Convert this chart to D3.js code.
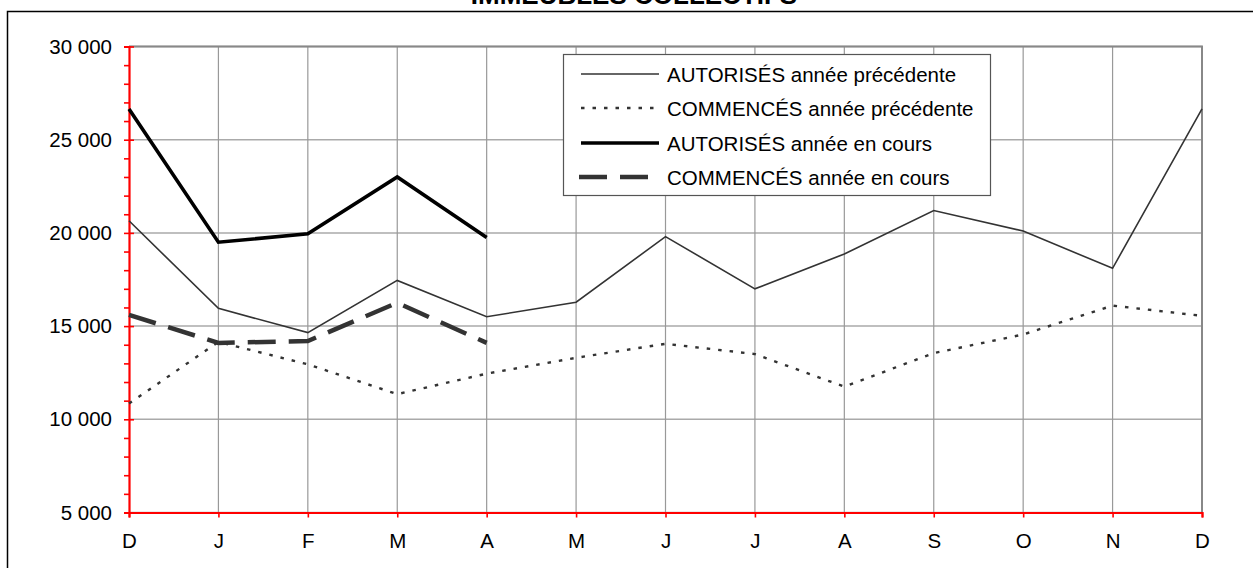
<!DOCTYPE html>
<html>
<head>
<meta charset="utf-8">
<script src="https://cdn.jsdelivr.net/npm/d3@7"></script>
<style>
  body { margin: 0; background: #fff; }
  svg { display: block; font-family: "Liberation Sans", Arial, sans-serif; }
</style>
</head>
<body>
<svg id="chart" width="1253" height="568"></svg>
<script>
// month labels (Dec previous year -> Dec)
var months = ["D", "J", "F", "M", "A", "M", "J", "J", "A", "S", "O", "N", "D"];

// values
var autPrev = [20650, 15950, 14650, 17450, 15500, 16280, 19800, 17000, 18870, 21200, 20100, 18100, 26650];
var comPrev = [10850, 14150, 12950, 11350, 12450, 13300, 14050, 13500, 11750, 13550, 14550, 16100, 15550];
var autCur = [26650, 19500, 19950, 23000, 19750];
var comCur = [15600, 14100, 14200, 16250, 14100];

var yTicks = [5000, 10000, 15000, 20000, 25000, 30000];

var series = [
  {name: "AUTORISÉS année précédente", values: autPrev, color: "#333", width: 1.6, dash: null},
  {name: "COMMENCÉS année précédente", values: comPrev, color: "#333", width: 2.4, dash: "3.5,8"},
  {name: "AUTORISÉS année en cours", values: autCur, color: "#000", width: 3.6, dash: null},
  {name: "COMMENCÉS année en cours", values: comCur, color: "#333", width: 4.5, dash: "28,13"}
];

var margin = {left: 129, right: 51, top: 46.5, bottom: 55.5},
    width = 1253,
    height = 568;

var svg = d3.select("#chart");

var x = d3.scaleLinear().domain([0, months.length - 1]).range([margin.left, width - margin.right]);
var y = d3.scaleLinear().domain([5000, 30000]).range([height - margin.bottom, margin.top]);

// title (cut off at the top of the picture, as in the source)
svg.append("text")
    .attr("x", 634).attr("y", 4)
    .attr("text-anchor", "middle")
    .attr("font-weight", "bold")
    .attr("font-size", 26)
    .text("IMMEUBLES COLLECTIFS");

// outer chart border
svg.append("rect")
    .attr("x", 7.5).attr("y", 11.5)
    .attr("width", 1300).attr("height", 700)
    .attr("fill", "none")
    .attr("stroke", "#000")
    .attr("stroke-width", 1.5);

// grid
svg.append("g").selectAll("line")
  .data(yTicks)
  .enter().append("line")
    .attr("x1", x(0)).attr("x2", x(12))
    .attr("y1", y).attr("y2", y)
    .attr("stroke", "#aaa")
    .attr("stroke-width", 1.5);

svg.append("g").selectAll("line")
  .data(d3.range(1, months.length))
  .enter().append("line")
    .attr("x1", x).attr("x2", x)
    .attr("y1", y(30000)).attr("y2", y(5000))
    .attr("stroke", "#999")
    .attr("stroke-width", 1.2);

// plot frame top / right
svg.append("path")
    .attr("d", "M" + x(0) + "," + y(30000) + "H" + x(12) + "V" + y(5000))
    .attr("fill", "none")
    .attr("stroke", "#888")
    .attr("stroke-width", 2);

// y axis (red)
var yAxis = d3.axisLeft(y)
    .tickValues(d3.range(5000, 30001, 1000))
    .tickSize(5)
    .tickFormat(function (d) { return d % 5000 === 0 ? d3.format(",")(d).replace(",", " ") : ""; });

var gy = svg.append("g")
    .attr("transform", "translate(" + x(0) + ",0)")
    .call(yAxis);
gy.select(".domain").attr("stroke", "red").attr("stroke-width", 2.2);
gy.selectAll(".tick line").attr("stroke", "red").attr("stroke-width", 1.6)
    .attr("x2", -5)
    .attr("x1", function (d) { return d % 5000 === 0 ? 5 : 0; });
gy.selectAll(".tick text")
    .attr("x", -17)
    .attr("font-size", 20.5)
    .attr("font-family", "Liberation Sans, Arial, sans-serif")
    .attr("fill", "#000");

// x axis (red)
var xAxis = d3.axisBottom(x)
    .tickValues(d3.range(months.length))
    .tickSize(5)
    .tickFormat(function (i) { return months[i]; });

var gx = svg.append("g")
    .attr("transform", "translate(0," + y(5000) + ")")
    .call(xAxis);
gx.select(".domain").attr("stroke", "red").attr("stroke-width", 2.2);
gx.selectAll(".tick line").attr("stroke", "red").attr("stroke-width", 1.6);
gx.selectAll(".tick text")
    .attr("y", 21)
    .attr("font-size", 20.5)
    .attr("font-family", "Liberation Sans, Arial, sans-serif")
    .attr("fill", "#000");

// lines
var line = d3.line()
    .x(function (d, i) { return x(i); })
    .y(function (d) { return y(d); });

svg.append("g").selectAll("path")
  .data(series)
  .enter().append("path")
    .attr("d", function (s) { return line(s.values); })
    .attr("fill", "none")
    .attr("stroke", function (s) { return s.color; })
    .attr("stroke-width", function (s) { return s.width; })
    .attr("stroke-dasharray", function (s) { return s.dash; })
    .attr("stroke-linejoin", "miter");

// legend
var legend = svg.append("g");
legend.append("rect")
    .attr("x", 563.5).attr("y", 54.5)
    .attr("width", 427).attr("height", 141)
    .attr("fill", "#fff")
    .attr("stroke", "#555")
    .attr("stroke-width", 1.2);

var rows = legend.selectAll("g.row")
  .data(series)
  .enter().append("g")
    .attr("class", "row")
    .attr("transform", function (d, i) { return "translate(0," + [74, 108, 143, 177][i] + ")"; });

rows.append("line")
    .attr("x1", function (s) { return s.dash && s.width > 3 ? 579 : 581; })
    .attr("x2", 659)
    .attr("stroke", function (s) { return s.color; })
    .attr("stroke-width", function (s) { return s.width; })
    .attr("stroke-dasharray", function (s) { return s.dash; });

rows.append("text")
    .attr("x", 667).attr("y", 7.5)
    .attr("font-size", 20.5)
    .attr("fill", "#000")
    .text(function (s) { return s.name; });
</script>
</body>
</html>
